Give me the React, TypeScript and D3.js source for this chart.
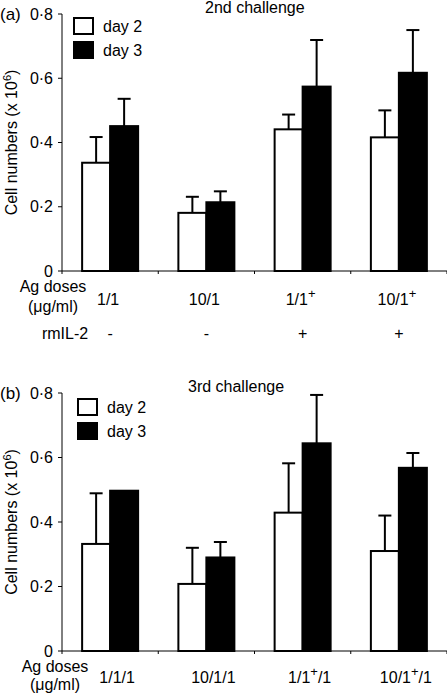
import React from "react";
import * as d3 from "d3";

const topCategories = ["1/1", "10/1", "1/1+", "10/1+"];
const bottomCategories = ["1/1/1", "10/1/1", "1/1+/1", "10/1+/1"];
const rmIL2 = ["-", "-", "+", "+"];
const seriesNames = ["day 2", "day 3"];
const yTicks = [0, 0.2, 0.4, 0.6, 0.8];

const day2Top = [0.337, 0.181, 0.441, 0.416];
const day2TopErr = [0.08, 0.05, 0.046, 0.084];
const day3Top = [0.451, 0.214, 0.574, 0.617];
const day3TopErr = [0.085, 0.034, 0.145, 0.133];

const day2Bottom = [0.332, 0.208, 0.429, 0.31];
const day2BottomErr = [0.157, 0.112, 0.153, 0.11];
const day3Bottom = [0.497, 0.29, 0.644, 0.568];
const day3BottomErr = [0, 0.048, 0.15, 0.046];

const FONT = "'Liberation Sans', Arial, Helvetica, sans-serif";
const FS = 16;
const W = 447;
const H = 693;
const X0 = 62;
const X1 = 447;
const BAR_W = 28;
const CAP = 13;

const fmt = (v: number) => (v === 0 ? "0" : d3.format(".1f")(v).replace(".", "·"));

function Label({ text, x, y, size = FS }: { text: string; x: number; y: number; size?: number }) {
  const parts = text.split("+");
  const nodes: React.ReactNode[] = [];
  parts.forEach((p, i) => {
    if (i > 0) {
      nodes.push(
        <tspan key={`s${i}`} dy={-7} fontSize={size - 3}>
          +
        </tspan>
      );
    }
    if (p.length > 0) {
      nodes.push(
        <tspan key={`p${i}`} dy={i > 0 ? 7 : 0}>
          {p}
        </tspan>
      );
    }
  });
  return (
    <text x={x} y={y} textAnchor="middle" fontSize={size} fontFamily={FONT}>
      {nodes}
    </text>
  );
}

function Panel({
  letter,
  title,
  titleX,
  titleY,
  cats,
  d2,
  e2,
  d3v,
  e3,
  y0,
  y1,
  legendX,
  legendY,
}: {
  letter: string;
  title: string;
  titleX: number;
  titleY: number;
  cats: string[];
  d2: number[];
  e2: number[];
  d3v: number[];
  e3: number[];
  y0: number;
  y1: number;
  legendX: number;
  legendY: number;
}) {
  const y = d3.scaleLinear().domain([0, 0.8]).range([y0, y1]);
  const x = d3.scaleBand().domain(cats).range([X0, X1]).padding(0);
  const bw = x.bandwidth();
  const boundaries = cats.map((c) => x(c)!).concat([X1]);
  const series = [
    { vals: d2, errs: e2, fill: "#fff", off: -BAR_W },
    { vals: d3v, errs: e3, fill: "#000", off: 0 },
  ];
  const yMid = (y0 + y1) / 2;
  return (
    <g>
      <text x={0} y={y1 + 6} fontSize={17} fontFamily={FONT}>
        {letter}
      </text>
      <text x={titleX} y={titleY} fontSize={FS} fontFamily={FONT}>
        {title}
      </text>
      {/* y axis */}
      <line x1={X0} x2={X0} y1={y1} y2={y0} stroke="#000" strokeWidth={1} />
      {yTicks.map((t) => (
        <g key={t}>
          <line x1={X0 - 4} x2={X0} y1={y(t)} y2={y(t)} stroke="#000" strokeWidth={1} />
          <text x={53} y={y(t) + 5.5} textAnchor="end" fontSize={FS} fontFamily={FONT}>
            {fmt(t)}
          </text>
        </g>
      ))}
      <text
        transform={`translate(17,${yMid}) rotate(-90)`}
        textAnchor="middle"
        fontSize={FS}
        fontFamily={FONT}
      >
        Cell numbers (x 10
        <tspan dy={-6} fontSize={11}>
          6
        </tspan>
        <tspan dy={6}>)</tspan>
      </text>
      {/* bars */}
      {series.map((s, si) =>
        cats.map((c, i) => {
          const cx = x(c)! + bw / 2;
          const bx = cx + s.off;
          const top = y(s.vals[i]);
          const errTop = y(s.vals[i] + s.errs[i]);
          const ex = bx + BAR_W / 2;
          return (
            <g key={`${si}-${i}`}>
              {s.errs[i] > 0 && (
                <g stroke="#000" strokeWidth={2}>
                  <line x1={ex} x2={ex} y1={top} y2={errTop} />
                  <line x1={ex - CAP / 2} x2={ex + CAP / 2} y1={errTop} y2={errTop} />
                </g>
              )}
              <rect
                x={bx}
                y={top}
                width={BAR_W}
                height={y0 - top}
                fill={s.fill}
                stroke="#000"
                strokeWidth={2}
              />
            </g>
          );
        })
      )}
      {/* x axis */}
      <line x1={X0} x2={X1} y1={y0} y2={y0} stroke="#000" strokeWidth={1} />
      {boundaries.map((b, i) => (
        <line key={i} x1={b} x2={b} y1={y0} y2={y0 + 3} stroke="#000" strokeWidth={1} />
      ))}
      {/* legend */}
      {seriesNames.map((n, i) => (
        <g key={n}>
          <rect
            x={legendX + 1}
            y={legendY + i * 24 + 1}
            width={19}
            height={16}
            fill={i === 0 ? "#fff" : "#000"}
            stroke="#000"
            strokeWidth={2}
          />
          <text x={legendX + 30} y={legendY + i * 24 + 15} fontSize={FS} fontFamily={FONT}>
            {n}
          </text>
        </g>
      ))}
    </g>
  );
}

export default function App() {
  const xTop = d3.scaleBand().domain(topCategories).range([X0, X1]);
  const xBot = d3.scaleBand().domain(bottomCategories).range([X0, X1]);
  return (
    <svg
      width={W}
      height={H}
      style={{ position: "absolute", left: 0, top: 0, background: "#fff" }}
    >
      <rect x={0} y={0} width={W} height={H} fill="#fff" />
      <Panel
        letter="(a)"
        title="2nd challenge"
        titleX={205}
        titleY={13}
        cats={topCategories}
        d2={day2Top}
        e2={day2TopErr}
        d3v={day3Top}
        e3={day3TopErr}
        y0={271}
        y1={14}
        legendX={73}
        legendY={17}
      />
      <Panel
        letter="(b)"
        title="3rd challenge"
        titleX={188}
        titleY={392}
        cats={bottomCategories}
        d2={day2Bottom}
        e2={day2BottomErr}
        d3v={day3Bottom}
        e3={day3BottomErr}
        y0={651}
        y1={393}
        legendX={77}
        legendY={398}
      />
      {/* top x labels */}
      <text x={53} y={292} textAnchor="middle" fontSize={FS} fontFamily={FONT}>
        Ag doses
      </text>
      <text x={53} y={312} textAnchor="middle" fontSize={FS} fontFamily={FONT}>
        (μg/ml)
      </text>
      {topCategories.map((c) => (
        <Label key={c} text={c} x={xTop(c)! + xTop.bandwidth() / 2 - 2} y={305} />
      ))}
      <text x={65} y={339} textAnchor="middle" fontSize={FS} fontFamily={FONT}>
        rmIL-2
      </text>
      {topCategories.map((c, i) => (
        <text
          key={c}
          x={xTop(c)! + xTop.bandwidth() / 2}
          y={339}
          textAnchor="middle"
          fontSize={FS}
          fontFamily={FONT}
        >
          {rmIL2[i]}
        </text>
      ))}
      {/* bottom x labels */}
      <text x={55} y={672} textAnchor="middle" fontSize={FS} fontFamily={FONT}>
        Ag doses
      </text>
      <text x={55} y={690} textAnchor="middle" fontSize={FS} fontFamily={FONT}>
        (μg/ml)
      </text>
      {bottomCategories.map((c) => (
        <Label key={c} text={c} x={xBot(c)! + xBot.bandwidth() / 2 + 7} y={683} />
      ))}
    </svg>
  );
}
